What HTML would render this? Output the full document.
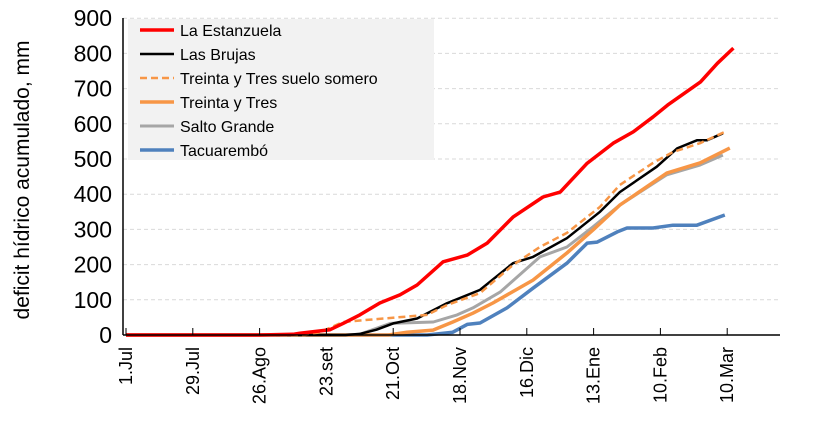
<!DOCTYPE html>
<html><head><meta charset="utf-8"><style>
body{margin:0;background:#fff}
svg{display:block;font-family:"Liberation Sans",sans-serif}
</style></head><body>
<svg id="c" width="829" height="428"></svg>
<script>
const yTicks=[0,100,200,300,400,500,600,700,800,900];
const xTickLabels=["1.Jul","29.Jul","26.Ago","23.set","21.Oct","18.Nov","16.Dic","13.Ene","10.Feb","10.Mar"];
const xTickDays=[0,28,56,84,112,140,168,196,224,252];
const seriesNames=["La Estanzuela","Las Brujas","Treinta y Tres suelo somero","Treinta y Tres","Salto Grande","Tacuarembó"];
const estanzuelaDays=[0,56,70,72.9,85.5,91,98,106.4,114.8,122,132.9,143,151.4,162.2,174.8,182,193.3,204.2,212.6,221,227,240.8,247.9,254.6];
const estanzuelaVals=[0,0,2,5,15,33,57,91,114,142,208,227,261,335,392,406,488,545,577,620,653,719,772,815];
const brujasDays=[0,92,98,105,112,122,134.5,148.4,162.2,170.6,184.8,198.7,207,222.5,231,239.3,243.5,250.2];
const brujasVals=[0,0,3,15,33,47,90,128,204,222,275,350,406,478,530,553,553,573];
const somDays=[0,75,81.3,91,101,126.2,134.5,148.4,162.2,173.5,184.8,198.7,207,220.9,229.3,240.6,251];
const somVals=[0,0,8,37,43,57,85,119,199,250,290,364,426,489,520,545,577];
const ttDays=[0,110,117.8,128.7,137,145.4,153.8,170.6,184.8,195.7,207,226.7,240.6,253.1];
const ttVals=[0,0,8,14,37,62,91,156,233,298,369,460,489,531];
const saltoDays=[0,96,98,110.8,128.8,138.8,145.4,156.8,173.5,184.8,195.7,207,226.7,240.6,250.2];
const saltoVals=[0,0,2,33,37,57,77,122,222,250,307,369,455,483,511];
const tacuDays=[0,126.2,137,143,148.4,159.7,170.6,184.8,193.3,197.5,205.9,210,220.9,229.3,239.3,251];
const tacuVals=[0,0,8,30,34,77,133,204,261,264,293,304,304,312,312,341];

const svg=document.getElementById('c');const NS='http://www.w3.org/2000/svg';
const X0=123,XR=780,Y0=335,PXD=66.8/28,PXV=35.2/100;
const xs=d=>126+d*PXD, ys=v=>Y0-v*PXV;
function el(t,a,p){const e=document.createElementNS(NS,t);for(const k in a)e.setAttribute(k,a[k]);(p||svg).appendChild(e);return e;}
yTicks.forEach(v=>{
  if(v>0){const g=el('line',{x1:X0,x2:XR,y1:ys(v),y2:ys(v),stroke:'#d9d9d9','stroke-dasharray':'4,3'});
  
  }
  const t=el('text',{x:X0-11,y:ys(v)+8,'text-anchor':'end','font-size':23,fill:'#000'});t.textContent=v;
  
  
});
const lb=el('rect',{x:128,y:19,width:306,height:141,fill:'#f2f2f2'});


const styles=[{c:'#ff0000',w:3.5},{c:'#000000',w:2.5},{c:'#f79646',w:2.5,d:'7,4'},{c:'#f79646',w:3.5},{c:'#a6a6a6',w:3},{c:'#4f81bd',w:3.5}];
const data=[[estanzuelaDays,estanzuelaVals],[brujasDays,brujasVals],[somDays,somVals],[ttDays,ttVals],[saltoDays,saltoVals],[tacuDays,tacuVals]];
const order=[5,4,3,1,2,0];
order.forEach(i=>{
  const [d,v]=data[i];const s=styles[i];
  const p=el('polyline',{points:d.map((x,j)=>xs(x).toFixed(1)+','+ys(v[j]).toFixed(1)).join(' '),fill:'none',stroke:s.c,'stroke-width':s.w,'stroke-linejoin':'round'});
  if(s.d)p.setAttribute('stroke-dasharray',s.d);
  
  
});
seriesNames.forEach((n,i)=>{
  const y=30+i*24;const s=styles[i];
  const l=el('line',{x1:140,x2:174,y1:y,y2:y,stroke:s.c,'stroke-width':s.w});
  if(s.d)l.setAttribute('stroke-dasharray',s.d);
  
  
  const t=el('text',{x:180,y:y+6,'font-size':16,fill:'#000'});t.textContent=n;
  
  
});
const ya=el('line',{x1:X0,x2:X0,y1:18,y2:Y0,stroke:'#000','stroke-width':1.5});


const xa=el('line',{x1:X0,x2:XR,y1:Y0,y2:Y0,stroke:'#000','stroke-width':1.5});


xTickDays.forEach((d,i)=>{
  const x=xs(d);
  const tk=el('line',{x1:x,x2:x,y1:Y0-7,y2:Y0,stroke:'#000','stroke-width':1});
  
  
  const t=el('text',{transform:`translate(${x+6},347) rotate(-90)`,'text-anchor':'end','font-size':18,fill:'#000'});
  t.textContent=xTickLabels[i];
  
  
});
const yt=el('text',{transform:'translate(29,180) rotate(-90)','text-anchor':'middle','font-size':21,fill:'#000'});
yt.textContent='deficit hídrico acumulado, mm';


</script>
</body></html>
